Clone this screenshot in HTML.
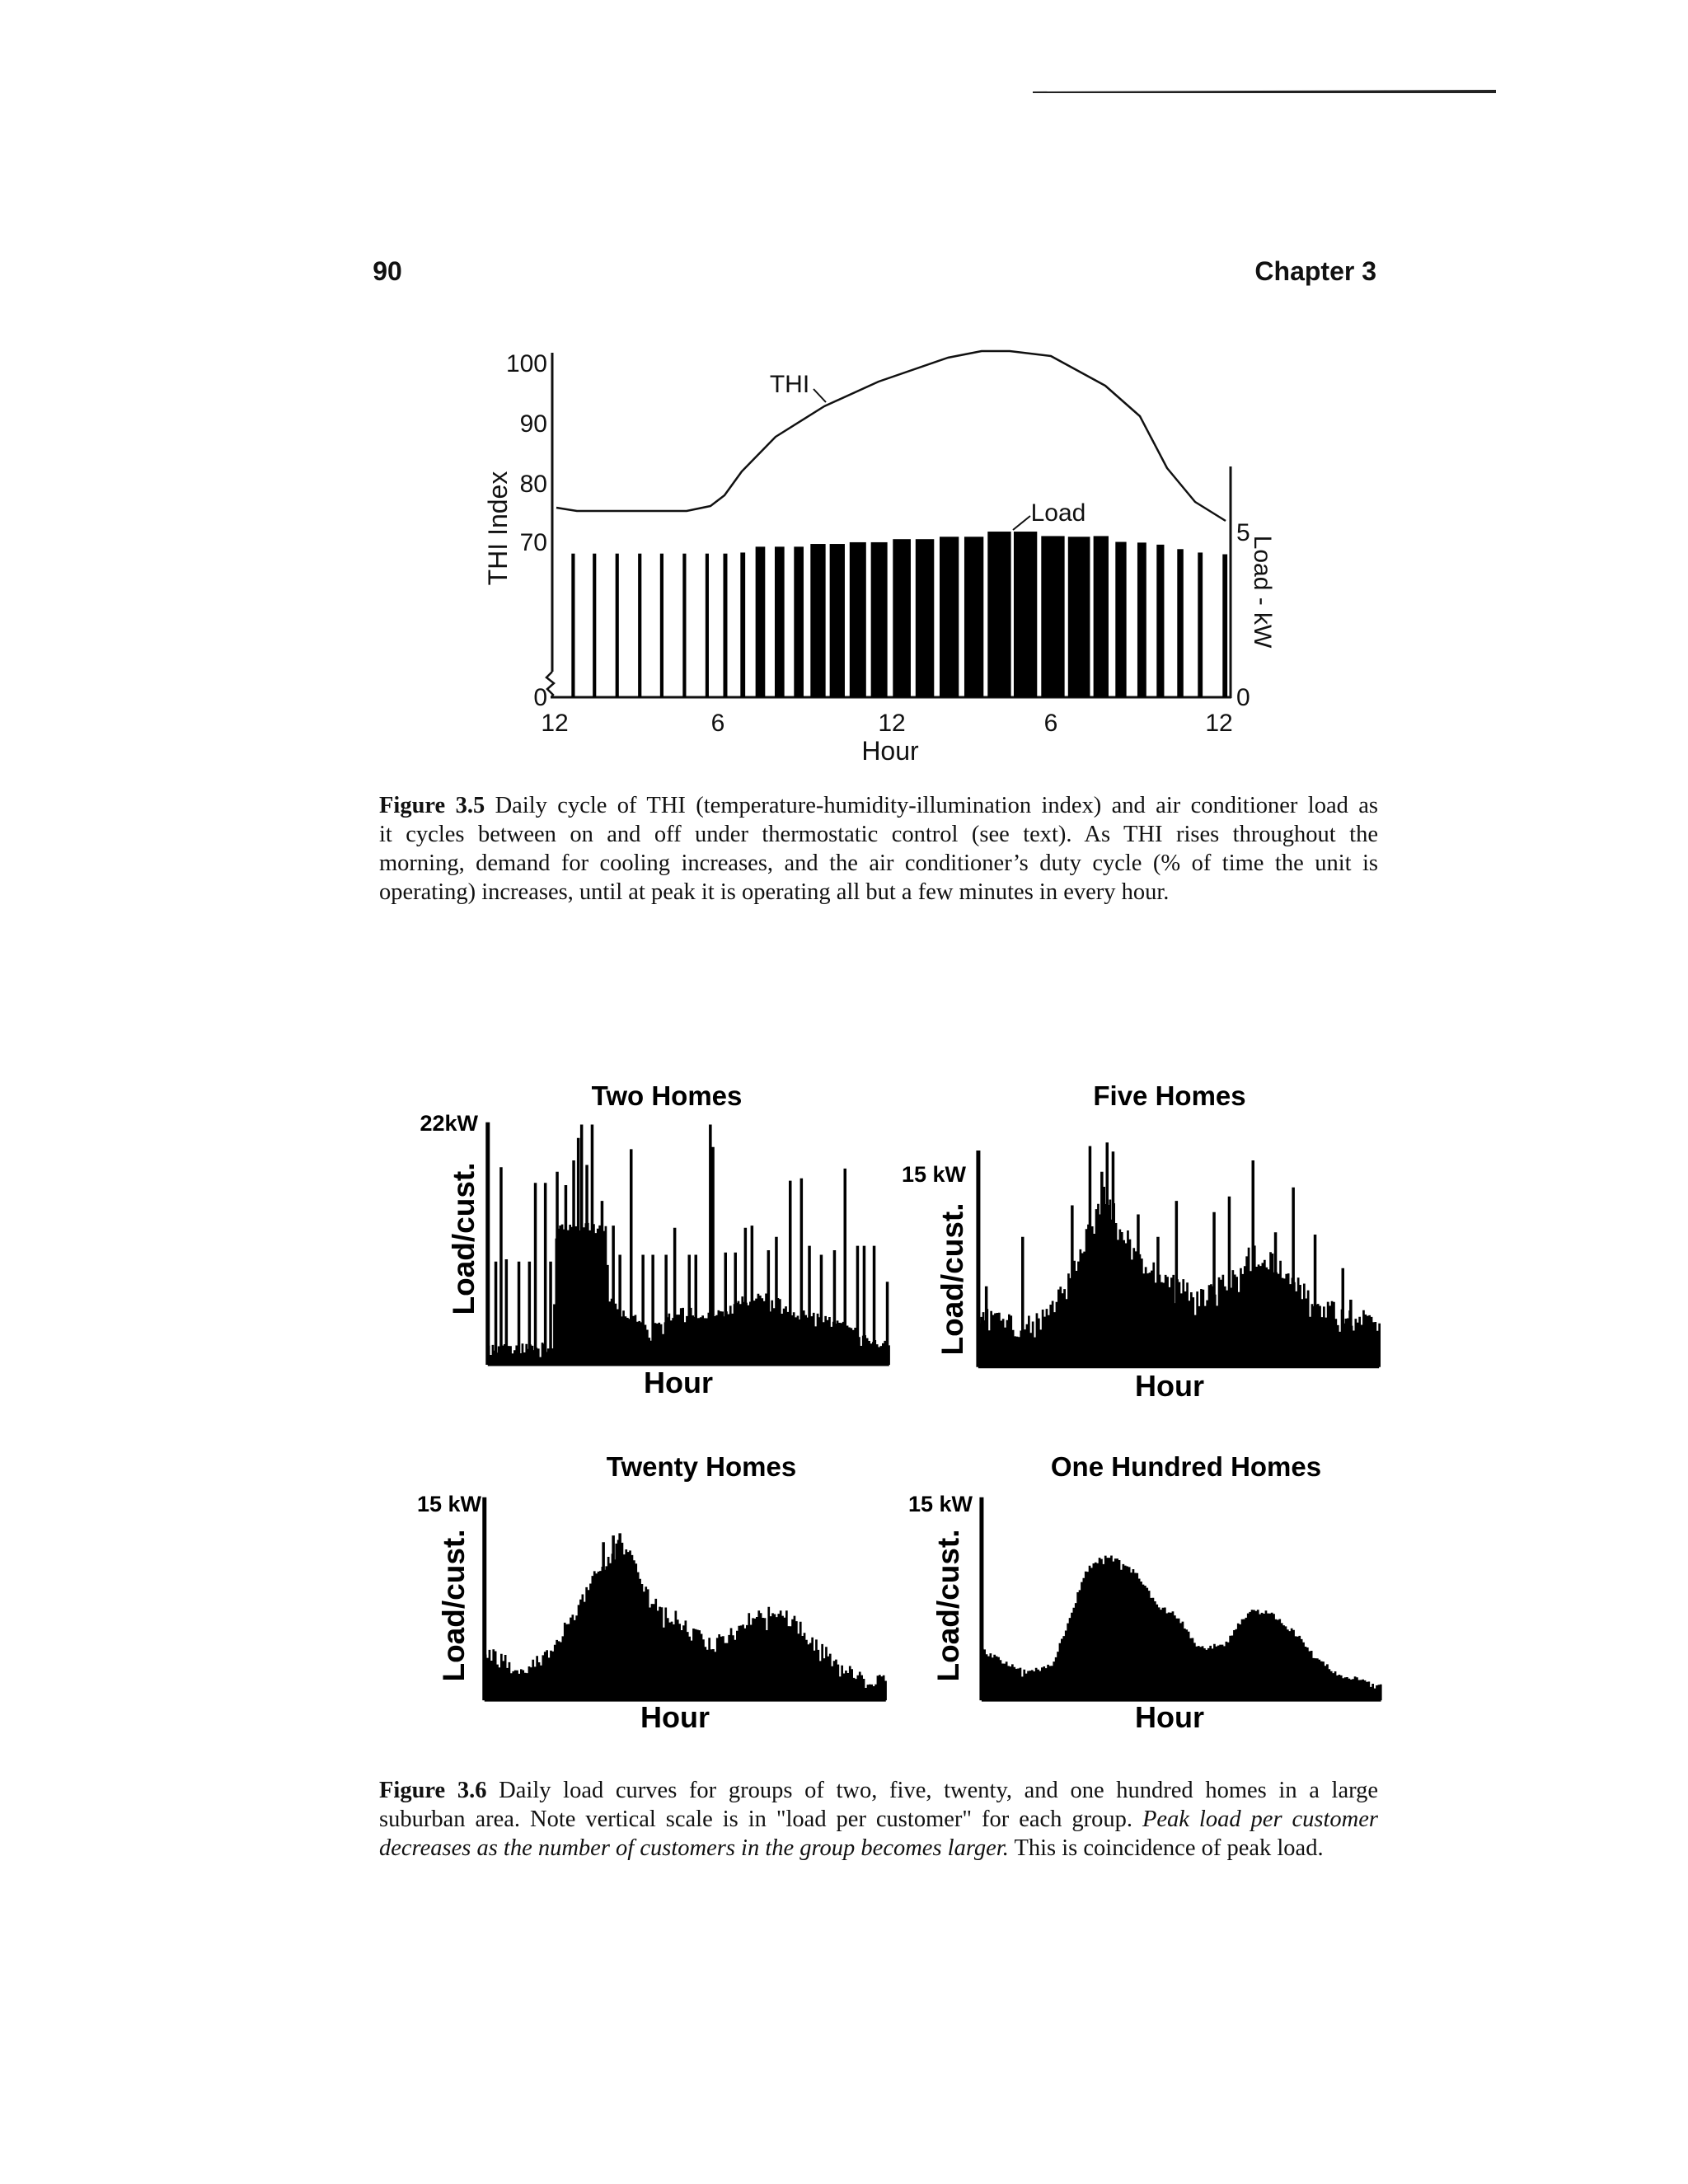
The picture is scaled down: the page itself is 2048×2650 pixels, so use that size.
<!DOCTYPE html>
<html><head><meta charset="utf-8">
<style>
html,body{margin:0;padding:0;background:#fff;}
body{width:2048px;height:2650px;position:relative;overflow:hidden;}
svg{position:absolute;left:0;top:0;}
.cap{position:absolute;left:460px;width:1212px;font-family:"Liberation Serif",serif;font-size:28.5px;color:#111;}
.cap div{height:35px;line-height:35px;text-align:justify;text-align-last:justify;white-space:nowrap;}
.cap div.last{text-align-last:left;}
</style></head><body>
<svg id="s" width="2048" height="2650" viewBox="0 0 2048 2650" xmlns="http://www.w3.org/2000/svg">
<g font-family="Liberation Sans, sans-serif" fill="#111">
<text x="470" y="340" font-size="32" font-weight="bold" text-anchor="middle">90</text>
<text x="1670" y="340" font-size="32" font-weight="bold" text-anchor="end">Chapter 3</text>
</g>
<polygon points="1253,111 1815,109 1815,113 1253,113" fill="#222"/>
<g id="topg" font-family="Liberation Sans, sans-serif" fill="#111" font-size="30"></g>
<g id="botg" font-family="Liberation Sans, sans-serif" fill="#000"></g>
</svg>
<div class="cap" style="top:960px">
<div><b>Figure 3.5</b> Daily cycle of THI (temperature-humidity-illumination index) and air conditioner load as</div>
<div>it cycles between on and off under thermostatic control (see text). As THI rises throughout the</div>
<div>morning, demand for cooling increases, and the air conditioner’s duty cycle (% of time the unit is</div>
<div class="last">operating) increases, until at peak it is operating all but a few minutes in every hour.</div>
</div>
<div class="cap" style="top:2155px">
<div><b>Figure 3.6</b> Daily load curves for groups of two, five, twenty, and one hundred homes in a large</div>
<div>suburban area. Note vertical scale is in "load per customer" for each group. <i>Peak load per customer</i></div>
<div class="last"><i>decreases as the number of customers in the group becomes larger.</i> This is coincidence of peak load.</div>
</div>
<script>
(function(){
var NS="http://www.w3.org/2000/svg";
function el(p,t,a,txt){var e=document.createElementNS(NS,t);for(var k in a)e.setAttribute(k,a[k]);if(txt!=null)e.textContent=txt;p.appendChild(e);return e;}
var tg=document.getElementById('topg');
function X1(z){return 400+z*0.8333;} function Y1(z){return 280+z*0.4167;}
el(tg,'line',{x1:670,y1:428,x2:670,y2:815,stroke:'#111','stroke-width':3});
el(tg,'polyline',{points:'670,815 663,822 672,829 664,836 671,843 669,846',fill:'none',stroke:'#111','stroke-width':2.5});
el(tg,'line',{x1:668,y1:846,x2:1494,y2:846,stroke:'#111','stroke-width':3});
el(tg,'line',{x1:1493,y1:566,x2:1493,y2:847,stroke:'#111','stroke-width':3});
var bars=[[352,940,5],[383,940,5],[416,940,5],[449,940,5],[481,940,5],[514,940,5],[547,940,5],[573,940,6],[598,937,7],[620,920,14],[648,920,14],[676,920,14],[700,912,22],[728,912,22],[757,907,24],[788,907,24],[820,898,26],[853,898,27],[888,891,28],[924,891,28],[958,876,34],[996,876,34],[1036,889,34],[1075,891,32],[1112,889,22],[1144,906,16],[1176,908,13],[1204,914,11],[1234,927,9],[1264,937,7],[1300,942,7]];
bars.forEach(function(b){var x=X1(b[0]),y=Y1(b[1]);el(tg,'rect',{x:x,y:y,width:b[2]*0.8333,height:846-y,fill:'#000'});});
var thi=[[675,616],[700,620],[833,620],[862,614],[879,601],[900,572],[941,530],[1000,493],[1066,463],[1150,434],[1191,426],[1225,426],[1275,432],[1341,468],[1383,505],[1416,568],[1450,609],[1487,632]];
el(tg,'polyline',{points:thi.map(function(p){return p.join(',')}).join(' '),fill:'none',stroke:'#111','stroke-width':2.5,'stroke-linejoin':'round'});
el(tg,'line',{x1:987,y1:472,x2:1002,y2:488,stroke:'#111','stroke-width':2});
el(tg,'line',{x1:1250,y1:626,x2:1229,y2:643,stroke:'#111','stroke-width':2});
el(tg,'text',{x:958,y:476,'text-anchor':'middle','font-size':30},'THI');
el(tg,'text',{x:1284,y:632,'text-anchor':'middle','font-size':30},'Load');
[['100',440],['90',513],['80',586],['70',657],['0',845]].forEach(function(t){el(tg,'text',{x:664,y:t[1]+11,'text-anchor':'end'},t[0]);});
el(tg,'text',{x:1500,y:656},'5');el(tg,'text',{x:1500,y:856},'0');
[['12',673],['6',871],['12',1082],['6',1275],['12',1479]].forEach(function(t){el(tg,'text',{x:t[1],y:887,'text-anchor':'middle'},t[0]);});
el(tg,'text',{x:1080,y:922,'text-anchor':'middle','font-size':32},'Hour');
el(tg,'text',{x:0,y:0,'text-anchor':'middle','font-size':32,transform:'translate(615,641) rotate(-90)'},'THI  Index');
el(tg,'text',{x:0,y:0,'text-anchor':'middle','font-size':30,transform:'translate(1522,718) rotate(90)'},'Load - kW');

var bg=document.getElementById('botg');
function X(z){return 450+z*0.801;} function Y(z){return 1250+z*0.545;}
var seed=12345;function rnd(){seed=(seed*16807)%2147483647;return (seed-1)/2147483646;}
function interp(env,x){for(var i=0;i<env.length-1;i++){if(x>=env[i][0]&&x<=env[i+1][0]){var t=(x-env[i][0])/(env[i+1][0]-env[i][0]);return env[i][1]+t*(env[i+1][1]-env[i][1]);}}return env[env.length-1][1];}
function panel(o){
  var d='';var bY=Y(o.bot);
  for(var zx=o.x0;zx<o.x1;zx+=o.step){
    var zy=interp(o.env,zx)+(rnd()-0.5)*o.noise*2;
    if(rnd()<o.gapP) zy+=o.gap*rnd();
    var x=X(zx),y=Y(Math.min(zy,o.bot-2));
    d+='M'+x.toFixed(1)+' '+y.toFixed(1)+'H'+(X(zx+o.step)+0.3).toFixed(1)+'V'+bY.toFixed(1)+'H'+x.toFixed(1)+'Z';
  }
  (o.spikes||[]).forEach(function(s){var x=X(s[0]);d+='M'+x.toFixed(1)+' '+Y(s[1]).toFixed(1)+'h3.5V'+bY.toFixed(1)+'h-3.5Z';});
  el(bg,'path',{d:d,fill:'#000'});
  el(bg,'line',{x1:X(o.x0),y1:Y(o.axTop),x2:X(o.x0),y2:bY,stroke:'#000','stroke-width':5});
  el(bg,'line',{x1:X(o.x0),y1:bY,x2:X(o.x1),y2:bY,stroke:'#000','stroke-width':3});
  el(bg,'text',{x:o.tx,y:o.ty,'text-anchor':'middle','font-size':33,'font-weight':'bold'},o.title);
  el(bg,'text',{x:o.kx,y:o.ky,'text-anchor':'end','font-size':27,'font-weight':'bold'},o.kw);
  el(bg,'text',{x:0,y:0,'text-anchor':'middle','font-size':37,'font-weight':'bold',transform:'translate('+o.lx+','+o.ly+') rotate(-90)'},'Load/cust.');
  el(bg,'text',{x:o.hx,y:o.hy,'text-anchor':'middle','font-size':36,'font-weight':'bold'},'Hour');
}
panel({x0:177,x1:785,bot:745,axTop:205,step:3,noise:12,gapP:0.15,gap:30,
 env:[[177,712],[275,705],[278,440],[355,440],[360,600],[380,630],[420,660],[470,625],[520,640],[560,600],[600,590],[640,630],[700,650],[760,695],[785,705]],
 spikes:[[187,515],[195,305],[203,510],[222,515],[238,515],[247,340],[262,340],[270,515],[280,315],[293,345],[305,290],[312,240],[317,210],[325,300],[333,210],[348,380],[365,435],[375,500],[392,265],[410,500],[425,500],[445,500],[458,440],[480,500],[490,500],[512,210],[516,260],[535,495],[550,495],[565,440],[575,435],[600,490],[612,460],[633,335],[650,330],[662,480],[680,500],[700,490],[716,308],[735,480],[745,480],[760,480],[780,560]],
 title:'Two Homes',tx:809,ty:1341,kw:'22kW',kx:580,ky:1372,lx:575,ly:1503,hx:823,hy:1690});
panel({x0:920,x1:1527,bot:750,axTop:268,step:3,noise:25,gapP:0.2,gap:40,
 env:[[920,640],[980,660],[1020,640],[1060,540],[1090,430],[1110,370],[1130,420],[1160,510],[1200,550],[1250,600],[1300,560],[1330,500],[1380,530],[1420,590],[1470,640],[1527,655]],
 spikes:[[930,570],[985,460],[1060,390],[1087,258],[1105,315],[1113,250],[1122,270],[1160,410],[1190,460],[1218,380],[1275,405],[1298,370],[1334,290],[1368,450],[1395,350],[1428,455],[1470,530],[1482,600]],
 title:'Five Homes',tx:1419,ty:1341,kw:'15 kW',kx:1172,ky:1434,lx:1168,ly:1552,hx:1419,hy:1694});
panel({x0:172,x1:780,bot:1492,axTop:1040,step:3,noise:18,gapP:0.12,gap:35,
 env:[[172,1385],[230,1430],[260,1400],[290,1340],[320,1270],[345,1200],[370,1155],[380,1145],[400,1190],[420,1270],[460,1310],[490,1350],[520,1370],[550,1330],[580,1300],[610,1290],[640,1320],[680,1380],[720,1430],[760,1450],[780,1452]],
 spikes:[[350,1140],[365,1125],[375,1120]],
 title:'Twenty  Homes',tx:851,ty:1791,kw:'15 kW',kx:584,ky:1834,lx:563,ly:1948,hx:819,hy:2096});
panel({x0:925,x1:1530,bot:1492,axTop:1040,step:3,noise:6,gapP:0.04,gap:20,
 env:[[925,1380],[960,1410],[990,1430],[1030,1415],[1060,1300],[1080,1205],[1100,1180],[1125,1170],[1160,1215],[1190,1280],[1220,1305],[1250,1370],[1290,1372],[1310,1330],[1330,1295],[1360,1295],[1400,1345],[1430,1400],[1470,1440],[1530,1455]],
 spikes:[],
 title:'One Hundred Homes',tx:1439,ty:1791,kw:'15 kW',kx:1180,ky:1834,lx:1163,ly:1948,hx:1419,hy:2096});
})();
</script>
</body></html>
